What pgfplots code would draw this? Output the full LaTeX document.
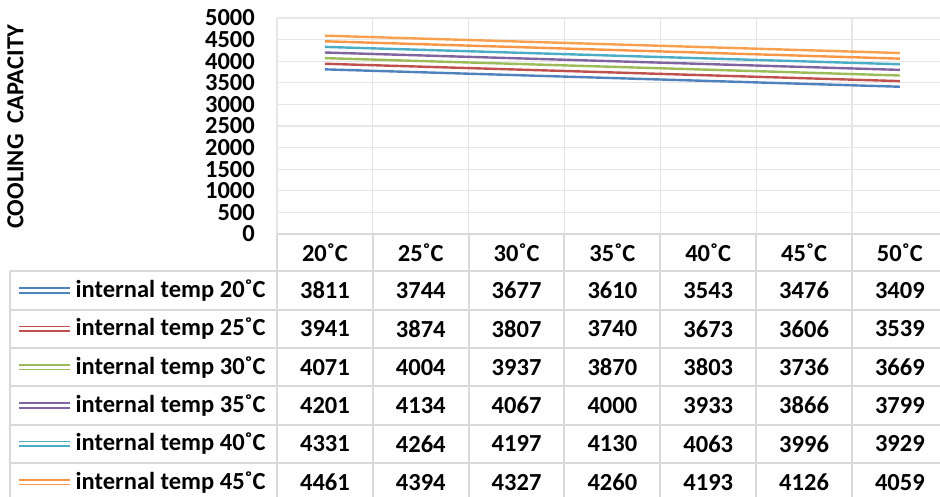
\documentclass[border=0pt]{standalone}
\usepackage{pgfplots}
\usepackage{pgfplotstable}
\pgfplotsset{compat=1.18}
\usepackage{fontspec}
\setmainfont{Carlito}

\definecolor{s1}{HTML}{4F81BD}
\definecolor{s2}{HTML}{C0504D}
\definecolor{s3}{HTML}{9BBB59}
\definecolor{s4}{HTML}{8064A2}
\definecolor{s5}{HTML}{4BACC6}
\definecolor{s6}{HTML}{F79646}
\definecolor{s7}{HTML}{F9A04E}
\definecolor{gridgray}{HTML}{E6E6E6}
\definecolor{tablegray}{HTML}{D9D9D9}

% cooling capacity, one column per internal temperature
% (t50 is read off the top line; its table row lies below the picture)
\pgfplotstableread{
ext t20  t25  t30  t35  t40  t45  t50
20  3811 3941 4071 4201 4331 4461 4591
25  3744 3874 4004 4134 4264 4394 4524
30  3677 3807 3937 4067 4197 4327 4457
35  3610 3740 3870 4000 4130 4260 4390
40  3543 3673 3803 3933 4063 4193 4323
45  3476 3606 3736 3866 3996 4126 4256
50  3409 3539 3669 3799 3929 4059 4189
}\capdata

\newcommand\tabfont{\fontsize{24.5}{28}\selectfont\bfseries}

\begin{document}
\begin{tikzpicture}
\begin{axis}[
  at={(277pt,-234pt)}, anchor=south west,
  scale only axis, width=670.8pt, height=216pt,
  xmin=-0.5, xmax=6.5, ymin=0, ymax=5000,
  xtick={-0.5,0.5,...,6.5}, xticklabels={},
  ytick={0,500,...,5000},
  major tick length=0pt,
  grid=major, grid style={draw=gridgray, line width=1.2pt},
  axis line style={draw=none},
  yticklabel style={font=\tabfont, inner sep=0pt, xshift=-22pt},
  /pgf/number format/assume math mode=true,
  /pgf/number format/1000 sep={},
  scaled y ticks=false,
  clip=false,
  every axis plot/.append style={line width=2.4pt},
]
\addplot[s1] table[x expr=\coordindex, y=t20]{\capdata};
\addplot[s2] table[x expr=\coordindex, y=t25]{\capdata};
\addplot[s3] table[x expr=\coordindex, y=t30]{\capdata};
\addplot[s4] table[x expr=\coordindex, y=t35]{\capdata};
\addplot[s5] table[x expr=\coordindex, y=t40]{\capdata};
\addplot[s6] table[x expr=\coordindex, y=t45]{\capdata};
\addplot[s7] table[x expr=\coordindex, y=t50]{\capdata};
\end{axis}

\begin{scope}[x=1pt, y=-1pt]
  % y axis title
  \node[rotate=90, font=\tabfont, inner sep=0pt] at (15.5,127) {COOLING\ \ CAPACITY};
  % table grid
  \draw[tablegray, line width=2pt] (277,234) -- (948,234);
  \foreach \yy in {271.5,309.8,348.1,386.4,424.7,463,501.3}
    \draw[tablegray, line width=2pt] (10,\yy) -- (948,\yy);
  \draw[tablegray, line width=2pt] (10,271.5) -- (10,501.3);
  \foreach \k in {0,...,7}
    \draw[tablegray, line width=2pt] ({277+95.83*\k},234) -- ({277+95.83*\k},501.3);
  % header
  \foreach \lab [count=\c from 0] in {20˚C,25˚C,30˚C,35˚C,40˚C,45˚C,50˚C}
    \node[font=\tabfont, inner sep=0pt] at ({277+95.83*(\c+0.5)},253) {\lab};
  % rows (the seventh row is below the visible part)
  \foreach \col/\clr/\name [count=\r from 0] in
      {t20/s1/20,t25/s2/25,t30/s3/30,t35/s4/35,t40/s5/40,t45/s6/45} {
    \pgfmathsetmacro\yc{290.6+38.3*\r}
    \draw[\clr, line width=1.7pt] (19,\yc-2.4) -- (70,\yc-2.4);
    \draw[\clr, line width=1.7pt] (19,\yc+2.4) -- (70,\yc+2.4);
    \node[font=\tabfont, anchor=west, inner sep=0pt] at (75.5,\yc) {internal temp \name˚C};
    \foreach \c in {0,...,6} {
      \pgfplotstablegetelem{\c}{\col}\of\capdata
      \node[font=\tabfont, inner sep=0pt] at ({277+95.83*(\c+0.5)},\yc) {\pgfplotsretval};
    }
  }
\end{scope}
\pgfresetboundingbox
\path[use as bounding box] (0pt,0pt) rectangle (940pt,-497pt);
\end{tikzpicture}
\end{document}
